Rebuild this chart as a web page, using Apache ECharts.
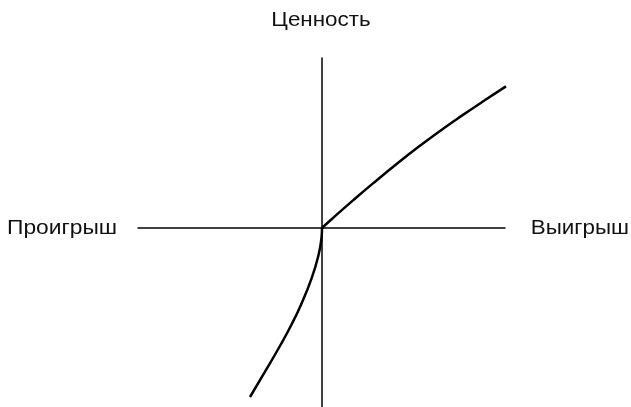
<!DOCTYPE html>
<html><head><meta charset="utf-8">
<script src="https://cdn.jsdelivr.net/npm/echarts@6/dist/echarts.min.js"></script>
<style>html,body{margin:0;padding:0;background:#fff}#c{width:631px;height:407px}</style>
</head><body><div id="c"></div>
<script>
const gainX = [0, 1.1, 3.1, 5.1, 7.8, 9.8, 11.8, 13.8, 16.5, 18.4];
const gainY = [0, 1.0, 2.76, 4.46, 6.67, 8.23, 9.71, 11.11, 12.92, 14.16];
const lossX = [0, -0.05, -0.39, -1.04, -2.11, -3.07, -4.15, -5.7, -7.2];
const lossY = [0, -1.0, -2.87, -5.03, -7.7, -9.7, -11.7, -14.37, -16.9];
const labels = { y: 'Ценность', left: 'Проигрыш', right: 'Выигрыш' };

const chart = echarts.init(document.getElementById('c'));
const pts = (xs, ys) => xs.map((x, i) => [x, ys[i]]);
const font = '20px "Liberation Sans", Arial, sans-serif';
chart.setOption({
  animation: false,
  grid: { left: 138, right: 126, top: 58, bottom: 0 },
  xAxis: { type: 'value', min: -18.4, max: 18.3, splitLine: { show: false },
    axisTick: { show: false }, axisLabel: { show: false },
    axisLine: { onZero: true, lineStyle: { color: '#000', width: 1.5 } } },
  yAxis: { type: 'value', min: -17.9, max: 17.0, splitLine: { show: false },
    axisTick: { show: false }, axisLabel: { show: false },
    axisLine: { onZero: true, lineStyle: { color: '#000', width: 1.5 } } },
  graphic: [
    { type: 'text', x: 321, y: 20, scaleX: 1.12,
      style: { text: labels.y, font: font, fill: '#111', textAlign: 'center', textVerticalAlign: 'middle' } },
    { type: 'text', x: 7, y: 228, scaleX: 1.14,
      style: { text: labels.left, font: font, fill: '#111', textAlign: 'left', textVerticalAlign: 'middle' } },
    { type: 'text', x: 629, y: 228, scaleX: 1.12,
      style: { text: labels.right, font: font, fill: '#111', textAlign: 'right', textVerticalAlign: 'middle' } }
  ],
  series: [
    { type: 'line', data: pts(gainX, gainY), smooth: 0.5, symbol: 'none', clip: false,
      lineStyle: { color: '#000', width: 2.5 } },
    { type: 'line', data: pts(lossX, lossY), smooth: 0.5, symbol: 'none', clip: false,
      lineStyle: { color: '#000', width: 2.5 } }
  ]
});
</script></body></html>
